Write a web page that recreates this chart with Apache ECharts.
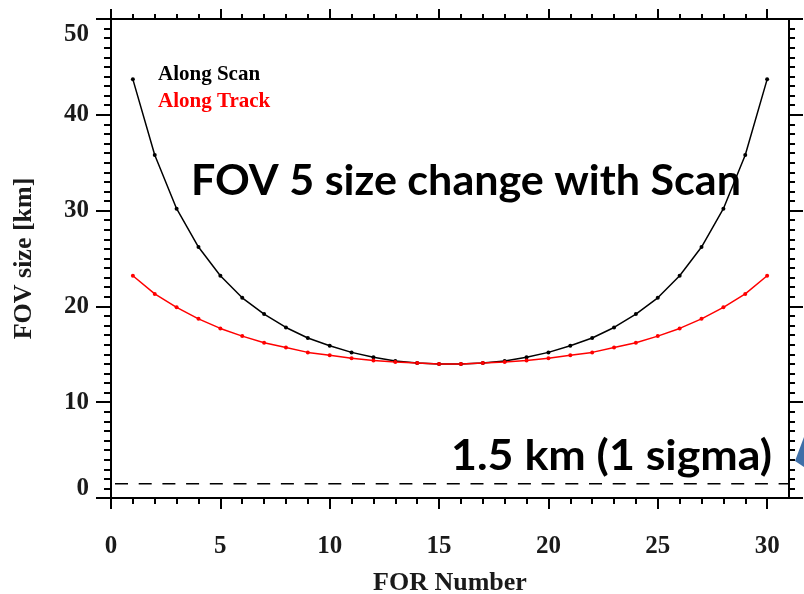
<!DOCTYPE html>
<html><head><meta charset="utf-8">
<script src="https://cdn.jsdelivr.net/npm/echarts@6/dist/echarts.min.js"></script>
<style>html,body{margin:0;padding:0;background:#fff}#c{width:804px;height:594px}</style>
</head><body><div id="c"></div>
<script>
// ---- data ----
const forNumbers = [1,2,3,4,5,6,7,8,9,10,11,12,13,14,15,16,17,18,19,20,21,22,23,24,25,26,27,28,29,30];
const alongScan = [43.7,35.8,30.2,26.2,23.2,20.9,19.2,17.8,16.7,15.9,15.2,14.7,14.3,14.1,14.0,
                   14.0,14.1,14.3,14.7,15.2,15.9,16.7,17.8,19.2,20.9,23.2,26.2,30.2,35.8,43.7];
const alongTrack = [23.2,21.3,19.9,18.7,17.7,16.9,16.2,15.7,15.2,14.9,14.6,14.35,14.2,14.1,14.0,
                    14.0,14.1,14.2,14.35,14.6,14.9,15.2,15.7,16.2,16.9,17.7,18.7,19.9,21.3,23.2];
const sigmaLevel = 1.5;
const xMajorTicks = [0,5,10,15,20,25,30];
const yTickLabels = [0,10,20,30,40,50];
const seriesNames = ['Along Scan','Along Track'];
const xName = 'FOR Number';
const yName = 'FOV size [km]';
const titleText = 'FOV 5 size change with Scan';
const sigmaText = '1.5 km (1 sigma)';

// ---- chart ----
const xMin = 0, xMax = 31;
const xMinorTicks = [];
for (let i = 1; i <= 30; i++) if (i % 5 !== 0) xMinorTicks.push(i);

const serif = 'Liberation Serif';
const tickColor = '#1a1a1a';
const lineStyleAx = {color:'#000', width:2};

function xAxisDef(pos, ticks, len, opts) {
  return Object.assign({
    type:'value', position:pos, min:xMin, max:xMax,
    axisLine:{show:true, onZero:false, lineStyle:lineStyleAx},
    axisTick:{show:true, inside:false, length:len, customValues:ticks, lineStyle:lineStyleAx},
    axisLabel:{show:false},
    splitLine:{show:false}
  }, opts || {});
}

const labelFont = {fontFamily:serif, fontWeight:'bold', fontSize:25, color:tickColor};

const xAxes = [
  xAxisDef('bottom', xMajorTicks, 11, {
    axisLabel:Object.assign({show:true, customValues:xMajorTicks, margin:36}, labelFont),
    name:xName, nameLocation:'middle', nameGap:72,
    nameTextStyle:{fontFamily:serif, fontWeight:'bold', fontSize:26, color:tickColor}
  }),
  xAxisDef('bottom', xMinorTicks, 6),
  xAxisDef('top', xMajorTicks, 10),
  xAxisDef('top', xMinorTicks, 5)
];

function yAxisDef(pos, len, mlen, opts) {
  return Object.assign({
    type:'value', position:pos, min:0, max:50, interval:10,
    axisLine:{show:true, onZero:false, lineStyle:lineStyleAx},
    axisTick:{show:true, inside:false, length:len, lineStyle:lineStyleAx},
    minorTick:{show:true, splitNumber:10, length:mlen, lineStyle:lineStyleAx},
    axisLabel:{show:false},
    splitLine:{show:false}
  }, opts || {});
}

const yAxes = [
  yAxisDef('left', 15, 7, {
    axisLabel:Object.assign({show:true, margin:22,
      formatter:function(v){ return v === 50 ? '{hi|50}' : (v === 0 ? '{lo|0}' : '{n|' + v + '}'); },
      rich:{
        hi:Object.assign({padding:[31,0,0,0]}, labelFont),
        lo:Object.assign({padding:[0,0,19,0]}, labelFont),
        n:Object.assign({}, labelFont)
      }
    }, labelFont),
    name:yName, nameLocation:'middle', nameRotate:90, nameGap:74,
    nameTextStyle:{fontFamily:serif, fontWeight:'bold', fontSize:26, color:tickColor}
  }),
  yAxisDef('right', 14, 6)
];

const scanData = forNumbers.map((f,i)=>[f, alongScan[i]]);
const trackData = forNumbers.map((f,i)=>[f, alongTrack[i]]);

// measure text width for the overlay annotations
const mctx = document.createElement('canvas').getContext('2d');
function fitScale(text, font, target) {
  mctx.font = font;
  return target / mctx.measureText(text).width;
}
const annFont = 'Lato';
const titleSize = 42, sigmaSize = 42;
const titleScale = fitScale(titleText, 'bold ' + titleSize + 'px ' + annFont, 550);
const sigmaScale = fitScale(sigmaText, 'bold ' + sigmaSize + 'px ' + annFont, 321);

const chart = echarts.init(document.getElementById('c'), null, {renderer:'canvas'});
chart.setOption({
  animation:false,
  backgroundColor:'#ffffff',
  grid:{left:111, right:15, top:19, bottom:96, containLabel:false, outerBoundsMode:'none'},
  xAxis:xAxes,
  yAxis:yAxes,
  legend:{
    orient:'vertical', left:148, top:59, itemGap:6,
    icon:'none', itemWidth:0, itemHeight:14,
    selectedMode:false,
    textStyle:{fontFamily:serif, fontWeight:'bold', fontSize:21},
    data:[
      {name:seriesNames[0], textStyle:{color:'#000000'}},
      {name:seriesNames[1], textStyle:{color:'#ff0000'}}
    ]
  },
  series:[
    {name:seriesNames[0], type:'line', xAxisIndex:0, yAxisIndex:0, data:scanData,
     symbol:'circle', symbolSize:4, showSymbol:true,
     lineStyle:{color:'#000', width:1.5}, itemStyle:{color:'#000'}, z:3},
    {name:seriesNames[1], type:'line', xAxisIndex:0, yAxisIndex:0, data:trackData,
     symbol:'circle', symbolSize:4, showSymbol:true,
     lineStyle:{color:'#ff0000', width:1.5}, itemStyle:{color:'#ff0000'}, z:3},
    {name:'sigma', type:'line', xAxisIndex:0, yAxisIndex:0,
     data:[[xMin, sigmaLevel],[xMax, sigmaLevel]],
     symbol:'none', lineStyle:{color:'#000', width:1.5, type:[13,10.7], dashOffset:-4}, z:2,
     silent:true}
  ],
  graphic:[
    {type:'text', x:191, y:181, scaleX:titleScale, z:10,
     style:{text:titleText, font:'bold ' + titleSize + 'px ' + annFont, fill:'#000',
            textAlign:'left', textVerticalAlign:'middle', verticalAlign:'middle'}},
    {type:'text', x:451, y:456, scaleX:sigmaScale, z:10,
     style:{text:sigmaText, font:'bold ' + sigmaSize + 'px ' + annFont, fill:'#000',
            textAlign:'left', textVerticalAlign:'middle', verticalAlign:'middle'}},
    {type:'polygon', z:10,
     shape:{points:[[804,437],[795,461],[804,467]]},
     style:{fill:'#3f6fa8'}}
  ]
});
</script>
</body></html>
